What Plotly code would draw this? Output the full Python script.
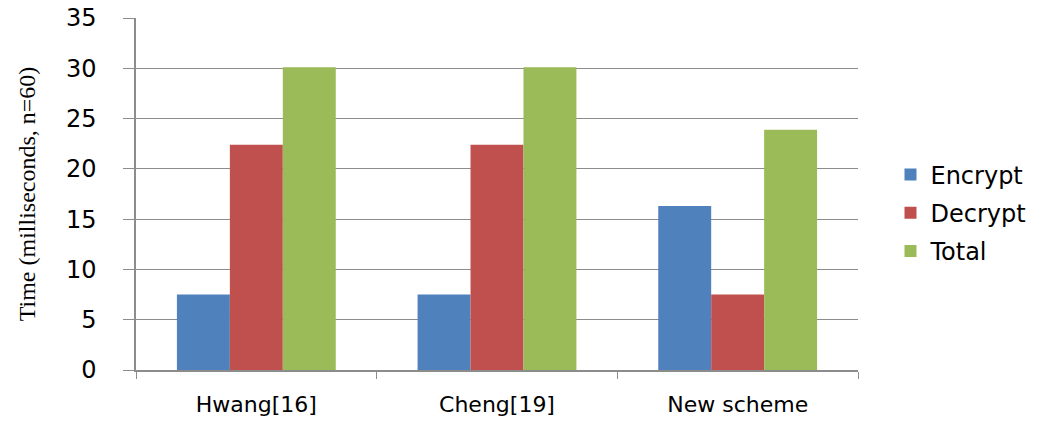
import plotly.graph_objects as go

categories = ["Hwang[16]", "Cheng[19]", "New scheme"]
encrypt = [7.5, 7.5, 16.3]
decrypt = [22.4, 22.4, 7.5]
total = [30.1, 30.1, 23.9]
y_ticks = [0, 5, 10, 15, 20, 25, 30, 35]

fig = go.Figure()
fig.add_bar(name="Encrypt", x=categories, y=encrypt, legendgroup="e", marker=dict(color="#4F81BD", line=dict(width=0)))
fig.add_bar(name="Decrypt", x=categories, y=decrypt, legendgroup="d", marker=dict(color="#C0504D", line=dict(width=0)))
fig.add_bar(name="Total", x=categories, y=total, legendgroup="t", marker=dict(color="#9BBB59", line=dict(width=0)))

fig.update_layout(
    width=1056, height=422,
    margin=dict(l=136, r=198, t=18, b=52, autoexpand=False),
    paper_bgcolor="white", plot_bgcolor="white",
    barmode="group", bargap=0.34, bargroupgap=0,
    font=dict(family="DejaVu Sans", color="#000000"),
    showlegend=True,
    legend=dict(x=1.045, y=0.446, xanchor="left", yanchor="middle",
                font=dict(size=24, family="DejaVu Sans", color="#000"),
                traceorder="grouped", tracegroupgap=4, itemwidth=30),
)
fig.update_xaxes(
    type="category", tickson="boundaries", showgrid=False, automargin=False,
    showline=True, linecolor="#8c8c8c", linewidth=1.5,
    ticks="outside", ticklen=7, tickcolor="#8c8c8c",
    tickfont=dict(size=22, family="DejaVu Sans", color="#000"),
    ticklabelstandoff=14,
)
fig.update_yaxes(
    range=[0, 35], tickvals=y_ticks, showgrid=True, gridcolor="#8c8c8c", gridwidth=1,
    automargin=False,
    showline=True, linecolor="#8c8c8c", linewidth=1.5,
    ticks="outside", ticklen=11, tickcolor="#8c8c8c",
    tickfont=dict(size=24, family="DejaVu Sans", color="#000"),
    ticklabelstandoff=22, zeroline=False,
    title=dict(text="Time (milliseconds, n=60)", font=dict(size=24, family="Liberation Serif", color="#000"), standoff=24),
)
fig.write_html("out.html")
